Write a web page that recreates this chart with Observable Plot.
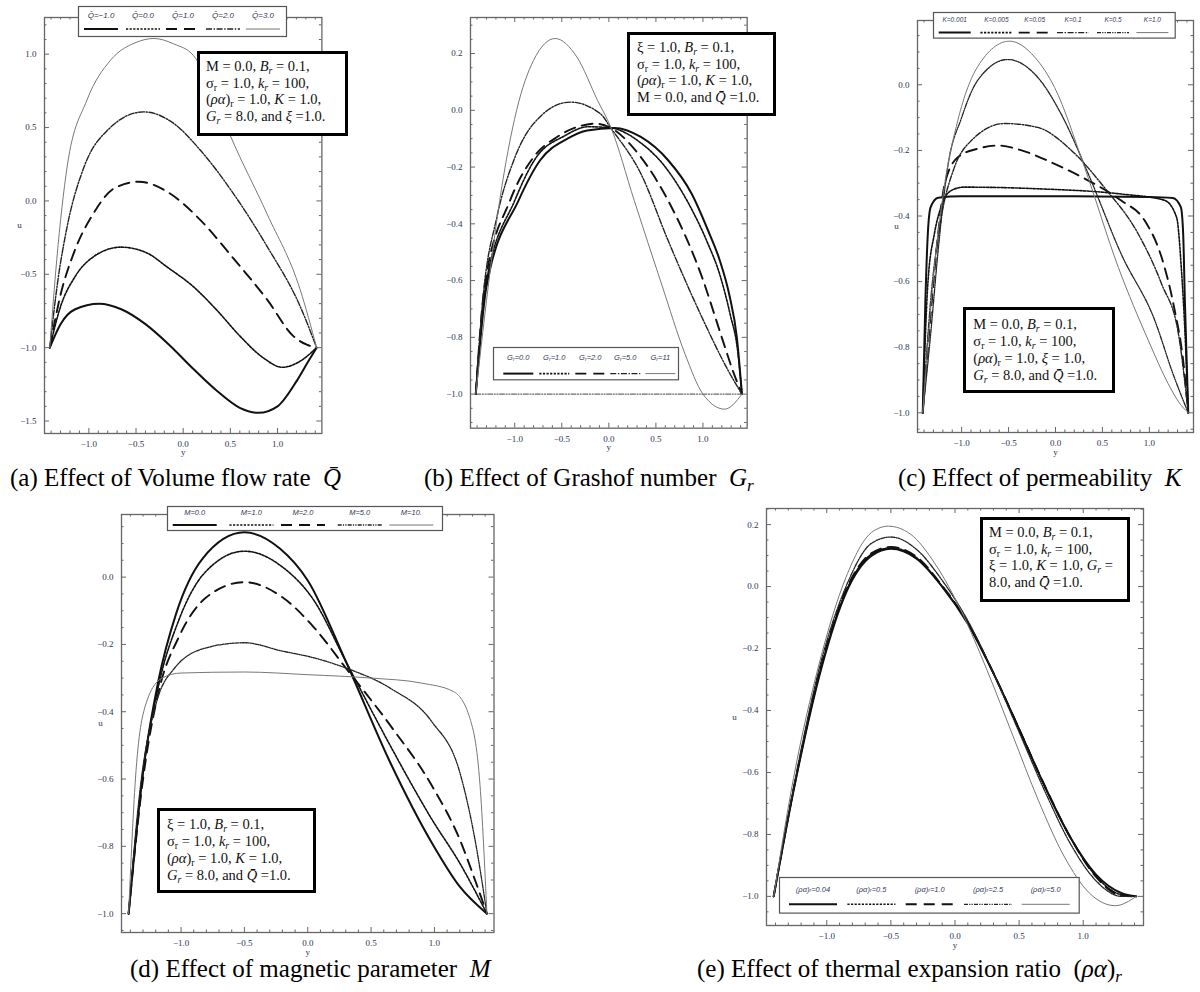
<!DOCTYPE html>
<html><head><meta charset="utf-8">
<script src="https://cdn.jsdelivr.net/npm/d3@7"></script>
<script src="https://cdn.jsdelivr.net/npm/@observablehq/plot@0.6"></script>
<style>
body{margin:0;background:#fff;}
#root{position:relative;width:1200px;height:992px;overflow:hidden;background:#fff;font-family:"Liberation Serif","Times New Roman",serif;}
.cap{position:absolute;font-size:25px;white-space:nowrap;line-height:26px;color:#000;}
.cap sub,.pbox sub{font-size:0.68em;vertical-align:-0.28em;line-height:0;}
.pbox{position:absolute;box-sizing:border-box;border:3px solid #000;background:#fff;font-size:14.5px;white-space:nowrap;color:#111;}
.abs{position:absolute;}
</style></head>
<body><div id="root"></div>
<script>
// ---------- data (y, u) ----------
const xTicks = [-1, -0.5, 0, 0.5, 1];
const aYTicks = [-1.5, -1, -0.5, 0, 0.5, 1];
const bYTicks = [-1, -0.8, -0.6, -0.4, -0.2, 0, 0.2];
const cYTicks = [-1, -0.8, -0.6, -0.4, -0.2, 0];
const dYTicks = [-1, -0.8, -0.6, -0.4, -0.2, 0];
const eYTicks = [-1, -0.8, -0.6, -0.4, -0.2, 0, 0.2];

// (a) volume flow rate
const aLabels = ["Q\u0304=\u22121.0", "Q\u0304=0.0", "Q\u0304=1.0", "Q\u0304=2.0", "Q\u0304=3.0"];
const a_qm1 = [[-1.414,-1.0],[-1.30,-0.84],[-1.15,-0.74],[-0.89,-0.70],[-0.65,-0.74],[-0.40,-0.84],[-0.15,-0.98],[0.10,-1.14],[0.35,-1.29],[0.60,-1.41],[0.80,-1.444],[1.00,-1.40],[1.20,-1.23],[1.32,-1.10],[1.414,-1.0]];
const a_q0 = [[-1.414,-1.0],[-1.30,-0.72],[-1.15,-0.52],[-0.95,-0.38],[-0.66,-0.315],[-0.40,-0.35],[-0.15,-0.46],[0.10,-0.58],[0.35,-0.74],[0.60,-0.92],[0.85,-1.07],[1.05,-1.134],[1.22,-1.10],[1.414,-1.0]];
const a_q1 = [[-1.414,-1.0],[-1.30,-0.64],[-1.16,-0.356],[-0.95,-0.084],[-0.73,0.086],[-0.47,0.131],[-0.17,0.063],[0.18,-0.129],[0.53,-0.39],[0.89,-0.673],[1.17,-0.923],[1.31,-0.98],[1.414,-1.0]];
const a_q2 = [[-1.414,-1.0],[-1.33,-0.55],[-1.23,-0.175],[-1.05,0.233],[-0.80,0.483],[-0.42,0.607],[-0.10,0.528],[0.18,0.347],[0.53,0.052],[0.89,-0.311],[1.24,-0.719],[1.414,-1.0]];
const a_q3 = [[-1.414,-1.0],[-1.34,-0.40],[-1.23,0.233],[-1.02,0.687],[-0.77,0.959],[-0.50,1.08],[-0.31,1.107],[-0.10,1.07],[0.11,0.99],[0.30,0.76],[0.50,0.444],[0.89,-0.09],[1.24,-0.605],[1.414,-1.0]];

// (b) Grashof number
const bLabels = ["0.0", "1.0", "2.0", "5.0", "11"];
const b_g0 = [[-1.414,-1.0],[-1.30,-0.62],[-0.96,-0.318],[-0.73,-0.176],[-0.44,-0.100],[-0.23,-0.071],[0.06,-0.062],[0.34,-0.094],[0.63,-0.176],[0.88,-0.294],[1.05,-0.42],[1.18,-0.53],[1.28,-0.65],[1.36,-0.80],[1.414,-1.0]];
const b_g1 = [[-1.414,-1.0],[-1.31,-0.62],[-1.00,-0.318],[-0.78,-0.17],[-0.47,-0.09],[-0.22,-0.058],[0.02,-0.062],[0.32,-0.11],[0.60,-0.20],[0.85,-0.33],[1.04,-0.46],[1.18,-0.58],[1.29,-0.72],[1.37,-0.85],[1.414,-1.0]];
const b_g2 = [[-1.414,-1.0],[-1.32,-0.62],[-1.05,-0.318],[-0.80,-0.165],[-0.55,-0.094],[-0.30,-0.055],[-0.14,-0.047],[0.02,-0.062],[0.34,-0.165],[0.63,-0.318],[0.99,-0.588],[1.20,-0.80],[1.32,-0.92],[1.414,-1.0]];
const b_g5 = [[-1.414,-1.0],[-1.34,-0.671],[-1.19,-0.377],[-1.01,-0.176],[-0.80,-0.047],[-0.41,0.029],[-0.09,-0.012],[0.02,-0.062],[0.34,-0.223],[0.63,-0.459],[0.99,-0.730],[1.27,-0.918],[1.414,-1.0]];
const b_g11 = [[-1.414,-1.0],[-1.30,-0.671],[-1.16,-0.318],[-0.98,0.0],[-0.80,0.176],[-0.57,0.253],[-0.34,0.188],[-0.12,0.035],[0.02,-0.059],[0.27,-0.318],[0.56,-0.612],[0.81,-0.859],[1.00,-1.0],[1.23,-1.053],[1.414,-1.0]];
const b_base = [[-1.414,-1.0],[1.414,-1.0]];

// (c) permeability
const cLabels = ["K=0.001", "K=0.005", "K=0.05", "K=0.1", "K=0.5", "K=1.0"];
const c_k0001 = [[-1.414,-1.0],[-1.386,-0.658],[-1.36,-0.454],[-1.33,-0.373],[-1.25,-0.344],[-1.0,-0.340],[0.0,-0.340],[1.0,-0.342],[1.25,-0.345],[1.335,-0.373],[1.36,-0.454],[1.378,-0.658],[1.414,-1.0]];
const c_k0005 = [[-1.414,-1.0],[-1.36,-0.607],[-1.29,-0.454],[-1.22,-0.373],[-1.11,-0.322],[-0.97,-0.312],[-0.19,-0.317],[0.70,-0.333],[1.16,-0.352],[1.29,-0.404],[1.34,-0.557],[1.38,-0.76],[1.414,-1.0]];
const c_k005 = [[-1.414,-1.0],[-1.33,-0.70],[-1.25,-0.454],[-1.18,-0.302],[-1.04,-0.221],[-0.83,-0.195],[-0.61,-0.185],[-0.36,-0.20],[-0.01,-0.241],[0.35,-0.292],[0.70,-0.353],[0.95,-0.414],[1.13,-0.526],[1.27,-0.688],[1.36,-0.841],[1.414,-1.0]];
const c_k01 = [[-1.414,-1.0],[-1.33,-0.66],[-1.22,-0.41],[-1.08,-0.254],[-0.90,-0.171],[-0.54,-0.118],[-0.19,-0.130],[0.17,-0.20],[0.52,-0.313],[0.88,-0.454],[1.13,-0.607],[1.31,-0.76],[1.414,-1.0]];
const c_k05 = [[-1.414,-1.0],[-1.33,-0.76],[-1.25,-0.505],[-1.15,-0.254],[-1.0,-0.10],[-0.83,0.013],[-0.51,0.077],[-0.19,0.023],[0.06,-0.089],[0.35,-0.272],[0.70,-0.516],[1.06,-0.72],[1.25,-0.88],[1.414,-1.0]];
const c_k1 = [[-1.414,-1.0],[-1.29,-0.556],[-1.18,-0.302],[-1.04,-0.108],[-0.83,0.055],[-0.49,0.133],[-0.22,0.084],[-0.01,-0.008],[0.31,-0.252],[0.67,-0.557],[0.99,-0.78],[1.20,-0.911],[1.32,-0.97],[1.414,-1.0]];

// (d) magnetic parameter
const dLabels = ["M=0.0", "M=1.0", "M=2.0", "M=5.0", "M=10."];
const d_m0 = [[-1.414,-1.0],[-1.30,-0.58],[-1.18,-0.31],[-1.04,-0.11],[-0.83,0.055],[-0.50,0.133],[-0.22,0.085],[0.0,-0.01],[0.30,-0.25],[0.65,-0.55],[0.98,-0.79],[1.20,-0.92],[1.414,-1.0]];
const d_m1 = [[-1.414,-1.0],[-1.30,-0.58],[-1.17,-0.31],[-1.02,-0.13],[-0.82,0.01],[-0.50,0.077],[-0.20,0.03],[0.05,-0.07],[0.30,-0.25],[0.65,-0.50],[0.98,-0.72],[1.20,-0.85],[1.414,-1.0]];
const d_m2 = [[-1.414,-1.0],[-1.30,-0.60],[-1.17,-0.33],[-1.02,-0.18],[-0.80,-0.06],[-0.50,-0.015],[-0.20,-0.06],[0.05,-0.15],[0.30,-0.27],[0.65,-0.44],[0.98,-0.62],[1.20,-0.78],[1.32,-0.90],[1.414,-1.0]];
const d_m5 = [[-1.414,-1.0],[-1.32,-0.62],[-1.20,-0.38],[-1.05,-0.27],[-0.80,-0.21],[-0.50,-0.195],[-0.20,-0.22],[0.05,-0.24],[0.30,-0.27],[0.65,-0.33],[0.98,-0.43],[1.20,-0.58],[1.32,-0.78],[1.414,-1.0]];
const d_m10 = [[-1.414,-1.0],[-1.36,-0.60],[-1.28,-0.38],[-1.15,-0.30],[-1.0,-0.285],[-0.5,-0.282],[0.0,-0.29],[0.5,-0.30],[0.9,-0.315],[1.15,-0.34],[1.28,-0.42],[1.36,-0.62],[1.414,-1.0]];

// (e) thermal expansion ratio
const eLabels = ["0.04", "0.5", "1.0", "2.5", "5.0"];
const e_r004 = [[-1.414,-1.0],[-1.25,-0.64],[-1.04,-0.26],[-0.85,-0.02],[-0.65,0.10],[-0.50,0.122],[-0.30,0.09],[-0.10,0.0],[0.10,-0.12],[0.30,-0.28],[0.50,-0.46],[0.70,-0.645],[0.90,-0.81],[1.10,-0.93],[1.30,-0.99],[1.414,-1.0]];
const e_r05 = [[-1.414,-1.0],[-1.25,-0.64],[-1.04,-0.255],[-0.85,-0.015],[-0.65,0.105],[-0.50,0.125],[-0.30,0.093],[-0.10,0.0],[0.10,-0.118],[0.30,-0.28],[0.50,-0.46],[0.70,-0.645],[0.90,-0.81],[1.10,-0.935],[1.30,-0.995],[1.414,-1.0]];
const e_r1 = [[-1.414,-1.0],[-1.25,-0.635],[-1.04,-0.25],[-0.85,-0.01],[-0.65,0.108],[-0.50,0.128],[-0.30,0.096],[-0.10,0.003],[0.10,-0.117],[0.30,-0.279],[0.50,-0.46],[0.70,-0.643],[0.90,-0.81],[1.10,-0.937],[1.30,-0.998],[1.414,-1.0]];
const e_r25 = [[-1.414,-1.0],[-1.25,-0.63],[-1.05,-0.25],[-0.85,0.0],[-0.65,0.14],[-0.50,0.16],[-0.30,0.12],[-0.10,0.02],[0.10,-0.11],[0.30,-0.28],[0.50,-0.47],[0.70,-0.66],[0.90,-0.83],[1.10,-0.95],[1.30,-1.0],[1.414,-1.0]];
const e_r5 = [[-1.414,-1.0],[-1.26,-0.62],[-1.06,-0.25],[-0.85,0.03],[-0.65,0.175],[-0.52,0.195],[-0.35,0.17],[-0.15,0.07],[0.05,-0.08],[0.25,-0.27],[0.45,-0.48],[0.65,-0.69],[0.85,-0.87],[1.05,-0.99],[1.25,-1.03],[1.414,-1.0]];

// ---------- styles ----------
const ST = {
  solid:  {stroke: "#111", strokeWidth: 2},
  dotted: {stroke: "#111", strokeWidth: 1.6, strokeDasharray: "2.2,1.4"},
  dashed: {stroke: "#111", strokeWidth: 1.9, strokeDasharray: "11,7"},
  dashdot:{stroke: "#222", strokeWidth: 1.4, strokeDasharray: "6,1.6,1.4,1.6"},
  dd2:    {stroke: "#222", strokeWidth: 1.3, strokeDasharray: "4,1.2,1.2,1.2,1.2,1.2"},
  thin:   {stroke: "#777", strokeWidth: 1},
  base:   {stroke: "#444", strokeWidth: 1, strokeDasharray: "5,1.5,1.2,1.5,1.2,1.5"}
};

const root = document.getElementById("root");
const fmt = d => (d < 0 ? "\u2212" : "") + Math.abs(d).toFixed(1);
const xDomain = [-1.47, 1.47];

function panel(p) {
  const [fx0, fy0, fx1, fy1] = p.frame;
  const ml = 50, mr = 8, mt = 8, mb = 40;
  const W = fx1 - fx0, H = fy1 - fy0;
  const [x0, x1] = xDomain, [y0, y1] = p.yDomain;
  const kx = (x1 - x0) / W, ky = (y1 - y0) / H;
  const near = (arr, v) => arr.some(t => Math.abs(t - v) < 1e-6);
  const xMinor = d3.range(Math.ceil(x0 * 10), Math.floor(x1 * 10) + 1).map(i => i / 10).filter(v => !near(xTicks, v));
  const s = p.yMinorStep;
  const yMinor = d3.range(Math.ceil(y0 / s - 1e-9), Math.floor(y1 / s + 1e-9) + 1).map(i => +(i * s).toFixed(4)).filter(v => !near(p.yTicks, v));
  const tc = {stroke: "#666", strokeWidth: 1};
  const xt = (vals, len) => [
    Plot.ruleX(vals, {x: d => d, y1: () => y0, y2: () => y0 + len * ky, ...tc}),
    Plot.ruleX(vals, {x: d => d, y1: () => y1 - len * ky, y2: () => y1, ...tc})
  ];
  const yt = (vals, len) => [
    Plot.ruleY(vals, {y: d => d, x1: () => x0, x2: () => x0 + len * kx, ...tc}),
    Plot.ruleY(vals, {y: d => d, x1: () => x1 - len * kx, x2: () => x1, ...tc})
  ];
  const marks = [
    ...p.series.map(sr => Plot.line(sr.pts, {x: d => d[0], y: d => d[1], curve: "monotone-x", ...sr.st})),
    Plot.frame({stroke: "#666", strokeWidth: 1.3}),
    ...xt(xTicks, 5), ...xt(xMinor, 2.5), ...yt(p.yTicks, 5), ...yt(yMinor, 2.5),
    Plot.axisX({ticks: xTicks, tickFormat: fmt, tickSize: 0, tickPadding: 7, label: null}),
    Plot.axisY({ticks: p.yTicks, tickFormat: fmt, tickSize: 0, tickPadding: 8, label: null}),
    Plot.text(["y"], {text: d => d, frameAnchor: "bottom", textAnchor: "middle", dy: 22})
  ];
  if (p.uLabel) marks.push(Plot.text(["u"], {text: d => d, frameAnchor: "left", textAnchor: "middle", dx: -p.uLabel}));
  const svg = Plot.plot({
    width: W + ml + mr, height: H + mt + mb,
    marginLeft: ml, marginRight: mr, marginTop: mt, marginBottom: mb,
    x: {domain: xDomain}, y: {domain: p.yDomain},
    style: {fontFamily: "Liberation Serif, serif", fontSize: "9px", color: "#2c3556", background: "transparent", overflow: "visible"},
    marks
  });
  svg.style.position = "absolute";
  svg.style.left = (fx0 - ml) + "px";
  svg.style.top = (fy0 - mt) + "px";
  root.appendChild(svg);
}

function legend(L) {
  const [bx0, by0, bx1, by1] = L.box;
  const svg = d3.select(root).append("svg").attr("class", "abs")
    .attr("width", bx1 - bx0).attr("height", by1 - by0)
    .style("left", bx0 + "px").style("top", by0 + "px").style("overflow", "visible");
  svg.append("rect").attr("x", 0.5).attr("y", 0.5).attr("width", bx1 - bx0 - 1).attr("height", by1 - by0 - 1)
    .attr("fill", "#fff").attr("stroke", "#555").attr("stroke-width", 1.2);
  L.items.forEach((it, i) => {
    const cx = L.cx[i] - bx0;
    const t = svg.append("text").attr("x", cx).attr("y", L.textY - by0).attr("text-anchor", "middle")
      .attr("dominant-baseline", "middle").attr("font-family", "Liberation Sans, Arial, sans-serif")
      .attr("font-style", "italic").attr("font-size", L.fs || 7.5).attr("fill", "#33395a");
    it.parts.forEach(([txt, sub]) => {
      const ts = t.append("tspan").text(txt);
      if (sub) ts.attr("font-size", (L.fs || 7.5) * 0.7).attr("dy", 1.5);
      else if (sub === false) ts.attr("dy", -1.5);
    });
    const st = it.st;
    svg.append("line").attr("x1", cx - L.half).attr("x2", cx + L.half)
      .attr("y1", L.lineY - by0).attr("y2", L.lineY - by0)
      .attr("stroke", st.stroke).attr("stroke-width", st.strokeWidth)
      .attr("stroke-dasharray", st.strokeDasharray || null);
  });
}

function pbox(b) {
  const el = document.createElement("div");
  el.className = "pbox";
  const [x0, y0, x1, y1] = b.box;
  Object.assign(el.style, {left: x0 + "px", top: y0 + "px", width: (x1 - x0) + "px", height: (y1 - y0) + "px",
    paddingLeft: b.pl + "px", paddingTop: b.pt + "px", lineHeight: b.lh + "px"});
  el.innerHTML = b.lines.join("<br>");
  root.appendChild(el);
}

function caption(c) {
  const el = document.createElement("div");
  el.className = "cap";
  el.style.left = c.x + "px"; el.style.top = c.y + "px";
  el.innerHTML = c.html;
  root.appendChild(el);
}

// ---------- panels ----------
panel({frame: [43.6, 17, 321, 433], yDomain: [-1.585, 1.25], yTicks: aYTicks, yMinorStep: 0.1, uLabel: 25,
  series: [{pts: a_qm1, st: ST.solid}, {pts: a_q0, st: ST.dotted}, {pts: a_q1, st: ST.dashed}, {pts: a_q2, st: ST.dashdot}, {pts: a_q3, st: ST.thin}]});
panel({frame: [470, 17.3, 746.7, 428], yDomain: [-1.12, 0.327], yTicks: bYTicks, yMinorStep: 0.05, uLabel: 0,
  series: [{pts: b_base, st: ST.base}, {pts: b_g0, st: ST.solid}, {pts: b_g1, st: ST.dotted}, {pts: b_g2, st: ST.dashed}, {pts: b_g5, st: ST.dashdot}, {pts: b_g11, st: ST.thin}]});
panel({frame: [916.7, 20, 1192.7, 432], yDomain: [-1.06, 0.196], yTicks: cYTicks, yMinorStep: 0.05, uLabel: 21,
  series: [{pts: c_k0001, st: ST.solid}, {pts: c_k0005, st: ST.dotted}, {pts: c_k005, st: ST.dashed}, {pts: c_k01, st: ST.dashdot}, {pts: c_k05, st: ST.dd2}, {pts: c_k1, st: ST.thin}]});
panel({frame: [121, 514, 493.5, 932], yDomain: [-1.056, 0.186], yTicks: dYTicks, yMinorStep: 0.05, uLabel: 21,
  series: [{pts: d_m0, st: ST.solid}, {pts: d_m1, st: ST.dotted}, {pts: d_m2, st: ST.dashed}, {pts: d_m5, st: ST.dd2}, {pts: d_m10, st: ST.thin}]});
panel({frame: [765.7, 508, 1142.7, 925], yDomain: [-1.094, 0.252], yTicks: eYTicks, yMinorStep: 0.05, uLabel: 32,
  series: [{pts: e_r004, st: ST.solid}, {pts: e_r05, st: ST.dotted}, {pts: e_r1, st: ST.dashed}, {pts: e_r25, st: ST.dd2}, {pts: e_r5, st: ST.thin}]});

// ---------- legends ----------
const aSt = [ST.solid, ST.dotted, ST.dashed, ST.dashdot, ST.thin];
legend({box: [78, 6, 287, 37], cx: [101, 143, 183, 223, 263], textY: 15.7, lineY: 29, half: 17, fs: 8,
  items: aLabels.map((l, i) => ({parts: [[l]], st: aSt[i]}))});
const bSt = [ST.solid, ST.dotted, ST.dashed, ST.dashdot, ST.thin];
legend({box: [492.7, 346.7, 678.7, 380], cx: [518, 554, 590, 625, 660], textY: 357.7, lineY: 373.3, half: 15,
  items: bLabels.map((l, i) => ({parts: [["G"], ["r", true], ["=" + l, false]], st: bSt[i]}))});
const cSt = [ST.solid, ST.dotted, ST.dashed, ST.dashdot, ST.dd2, ST.thin];
legend({box: [933.3, 11.7, 1176, 38.3], cx: [955, 996.7, 1035, 1073.3, 1113.3, 1152.7], textY: 20, lineY: 32.3, half: 16, fs: 6.5,
  items: cLabels.map((l, i) => ({parts: [[l]], st: cSt[i]}))});
const dSt = [ST.solid, ST.dotted, ST.dashed, ST.dd2, ST.thin];
legend({box: [167.3, 506, 443.3, 531], cx: [195, 251.7, 303.3, 360, 411.7], textY: 513.3, lineY: 525, half: 22,
  items: dLabels.map((l, i) => ({parts: [[l]], st: dSt[i]}))});
const eSt = [ST.solid, ST.dotted, ST.dashed, ST.dd2, ST.thin];
legend({box: [779.3, 876.7, 1080, 913.3], cx: [813.3, 871.7, 930, 988.3, 1046], textY: 889.3, lineY: 904, half: 24,
  items: eLabels.map((l, i) => ({parts: [["(\u03C1\u03B1)"], ["r", true], ["=" + l, false]], st: eSt[i]}))});

// ---------- parameter boxes ----------
const L_M = "M = 0.0, <i>B<sub>r</sub></i> = 0.1,";
const L_S = "\u03C3<sub>r</sub> = 1.0, <i>k<sub>r</sub></i> = 100,";
pbox({box: [197, 51, 348, 136], pl: 6, pt: 4, lh: 16.7,
  lines: [L_M, L_S, "(<i>\u03C1\u03B1</i>)<sub>r</sub> = 1.0, <i>K</i> = 1.0,", "<i>G<sub>r</sub></i> = 8.0, and <i>\u03BE</i> =1.0."]});
pbox({box: [627, 32, 776, 116], pl: 7, pt: 4, lh: 16.7,
  lines: ["\u03BE = 1.0, <i>B<sub>r</sub></i> = 0.1,", L_S, "(<i>\u03C1\u03B1</i>)<sub>r</sub> = 1.0, <i>K</i> = 1.0,", "M = 0.0, and <i>Q\u0304</i> =1.0."]});
pbox({box: [963.3, 306.7, 1115, 392.7], pl: 7, pt: 6, lh: 17,
  lines: [L_M, L_S, "(<i>\u03C1\u03B1</i>)<sub>r</sub> = 1.0, <i>\u03BE</i> = 1.0,", "<i>G<sub>r</sub></i> = 8.0, and <i>Q\u0304</i> =1.0."]});
pbox({box: [157, 808, 316, 893], pl: 7, pt: 5, lh: 17,
  lines: ["\u03BE = 1.0, <i>B<sub>r</sub></i> = 0.1,", L_S, "(<i>\u03C1\u03B1</i>)<sub>r</sub> = 1.0, <i>K</i> = 1.0,", "<i>G<sub>r</sub></i> = 8.0, and <i>Q\u0304</i> =1.0."]});
pbox({box: [980, 517, 1130, 602], pl: 6, pt: 4, lh: 16.5,
  lines: [L_M, L_S, "\u03BE = 1.0, <i>K</i> = 1.0, <i>G<sub>r</sub></i> =", "8.0, and <i>Q\u0304</i> =1.0."]});

// ---------- captions ----------
caption({x: 10, y: 465, html: "(a) Effect of Volume flow rate&nbsp; <i>Q\u0304</i>"});
caption({x: 424, y: 465, html: "(b) Effect of Grashof number&nbsp; <i>G<sub>r</sub></i>"});
caption({x: 898, y: 465, html: "(c) Effect of permeability&nbsp; <i>K</i>"});
caption({x: 130, y: 956, html: "(d) Effect of magnetic parameter&nbsp; <i>M</i>"});
caption({x: 697, y: 956, html: "(e) Effect of thermal expansion ratio&nbsp; (<i>\u03C1\u03B1</i>)<sub><i>r</i></sub>"});
</script></body></html>
